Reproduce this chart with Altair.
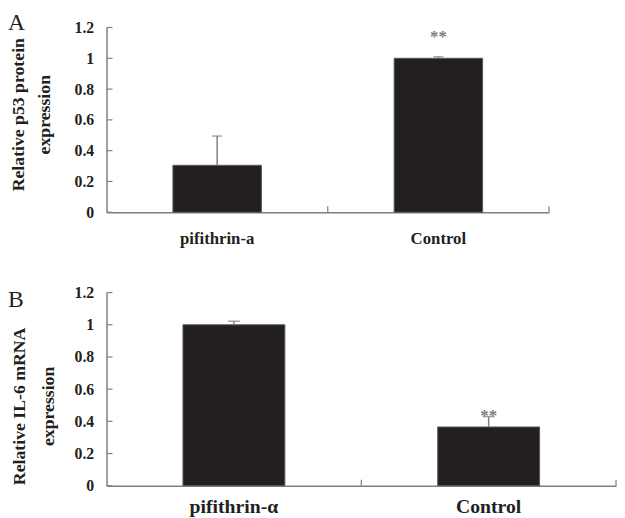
import altair as alt
import pandas as pd

# ---- data ----
groups_a = ["pifithrin-a", "Control"]
means_a = [0.305, 1.0]
errs_a = [0.19, 0.01]
stars_a = ["", "**"]

groups_b = ["pifithrin-α", "Control"]
means_b = [1.0, 0.365]
errs_b = [0.022, 0.065]
stars_b = ["", "**"]

y_ticks = [0, 0.2, 0.4, 0.6, 0.8, 1.0, 1.2]

FONT = "Liberation Serif"
AXIS_COL = "#7f7f7f"
BAR_COL = "#231f20"
TEXT_COL = "#231f20"
STAR_COL = "#7d7d7d"


def panel(groups, means, errs, stars, letter, title_lines, width, height,
          lab_size, lab_pad, title_size, title_x, title_y, title_lh,
          star_dy, letter_x, letter_y, letter_size, cap):
    df = pd.DataFrame({"group": groups, "mean": means, "err": errs, "star": stars})
    df["top"] = df["mean"] + df["err"]
    tick_df = pd.DataFrame({"v": y_ticks})
    letter_df = pd.DataFrame({"t": [letter]})

    xscale = alt.Scale(domain=groups, paddingInner=0, paddingOuter=0)
    xaxis = alt.Axis(title=None, labelAngle=0, ticks=False, tickSize=0,
                     labelFont=FONT, labelFontWeight="bold", labelFontSize=lab_size,
                     labelColor=TEXT_COL, labelPadding=lab_pad,
                     domainColor=AXIS_COL, domainWidth=1.5)
    yscale = alt.Scale(domain=[0, 1.2], nice=False, zero=True)
    yaxis = alt.Axis(values=y_ticks, format="~g", grid=False, ticks=False, tickSize=0,
                     labelOverlap=False, labelFlush=False,
                     labelFont=FONT, labelFontWeight="bold", labelFontSize=16,
                     labelColor=TEXT_COL, labelPadding=13,
                     domainColor=AXIS_COL, domainWidth=1.5,
                     title=title_lines, titleFont=FONT, titleFontWeight="bold",
                     titleFontSize=title_size, titleColor=TEXT_COL,
                     titleAngle=270, titleAlign="center", titleBaseline="middle",
                     titleX=title_x, titleY=title_y, titleLineHeight=title_lh)

    def X(**kw):
        return alt.X("group:N", sort=groups, scale=xscale, axis=xaxis, **kw)

    def Y(field):
        return alt.Y(field, scale=yscale, axis=yaxis)

    base = alt.Chart(df)
    bars = base.mark_bar(width={"band": 0.4}, color=BAR_COL, stroke="#5a5a5a",
                         strokeWidth=1).encode(x=X(), y=Y("mean:Q"))
    err_rule = base.mark_rule(color=AXIS_COL, strokeWidth=1.5).encode(
        x=X(), y=Y("mean:Q"), y2="top:Q")
    err_cap = base.mark_tick(color=AXIS_COL, thickness=1.5, size=cap).encode(
        x=X(), y=Y("top:Q"))
    star_txt = base.mark_text(font=FONT, fontSize=17, fontWeight="bold", color=STAR_COL,
                              baseline="middle", dy=star_dy).encode(
        x=X(), y=Y("top:Q"), text="star:N")
    yticks = alt.Chart(tick_df).mark_rule(color=AXIS_COL, strokeWidth=1.2).encode(
        y=Y("v:Q"), x=alt.value(0), x2=alt.value(6))
    xticks = base.mark_rule(color=AXIS_COL, strokeWidth=1.2).encode(
        x=X(bandPosition=1), y=alt.value(height), y2=alt.value(height - 6))
    letter_mark = alt.Chart(letter_df).mark_text(
        font=FONT, fontSize=letter_size, color=TEXT_COL, align="left", baseline="top"
    ).encode(text="t:N", x=alt.value(letter_x), y=alt.value(letter_y))

    return alt.layer(bars, err_rule, err_cap, star_txt, yticks, xticks,
                     letter_mark).properties(width=width, height=height)


chart_a = panel(groups_a, means_a, errs_a, stars_a, "A",
                ["Relative p53 protein", "expression"], 449, 187.5,
                17, 19, 18, -89, 88, 26, -20, -100, -16, 24, 10)
chart_b = panel(groups_b, means_b, errs_b, stars_b, "B",
                ["Relative IL-6 mRNA", "expression"], 517, 196,
                20, 11, 18, -88, 115, 29, 0, -100, -4, 24, 12)

chart = alt.vconcat(chart_a, chart_b, spacing=81, bounds="flush").configure(
    padding=0, background="white"
).configure_view(stroke=None)

chart.save("out.html", embed_options={"renderer": "svg", "actions": False})
